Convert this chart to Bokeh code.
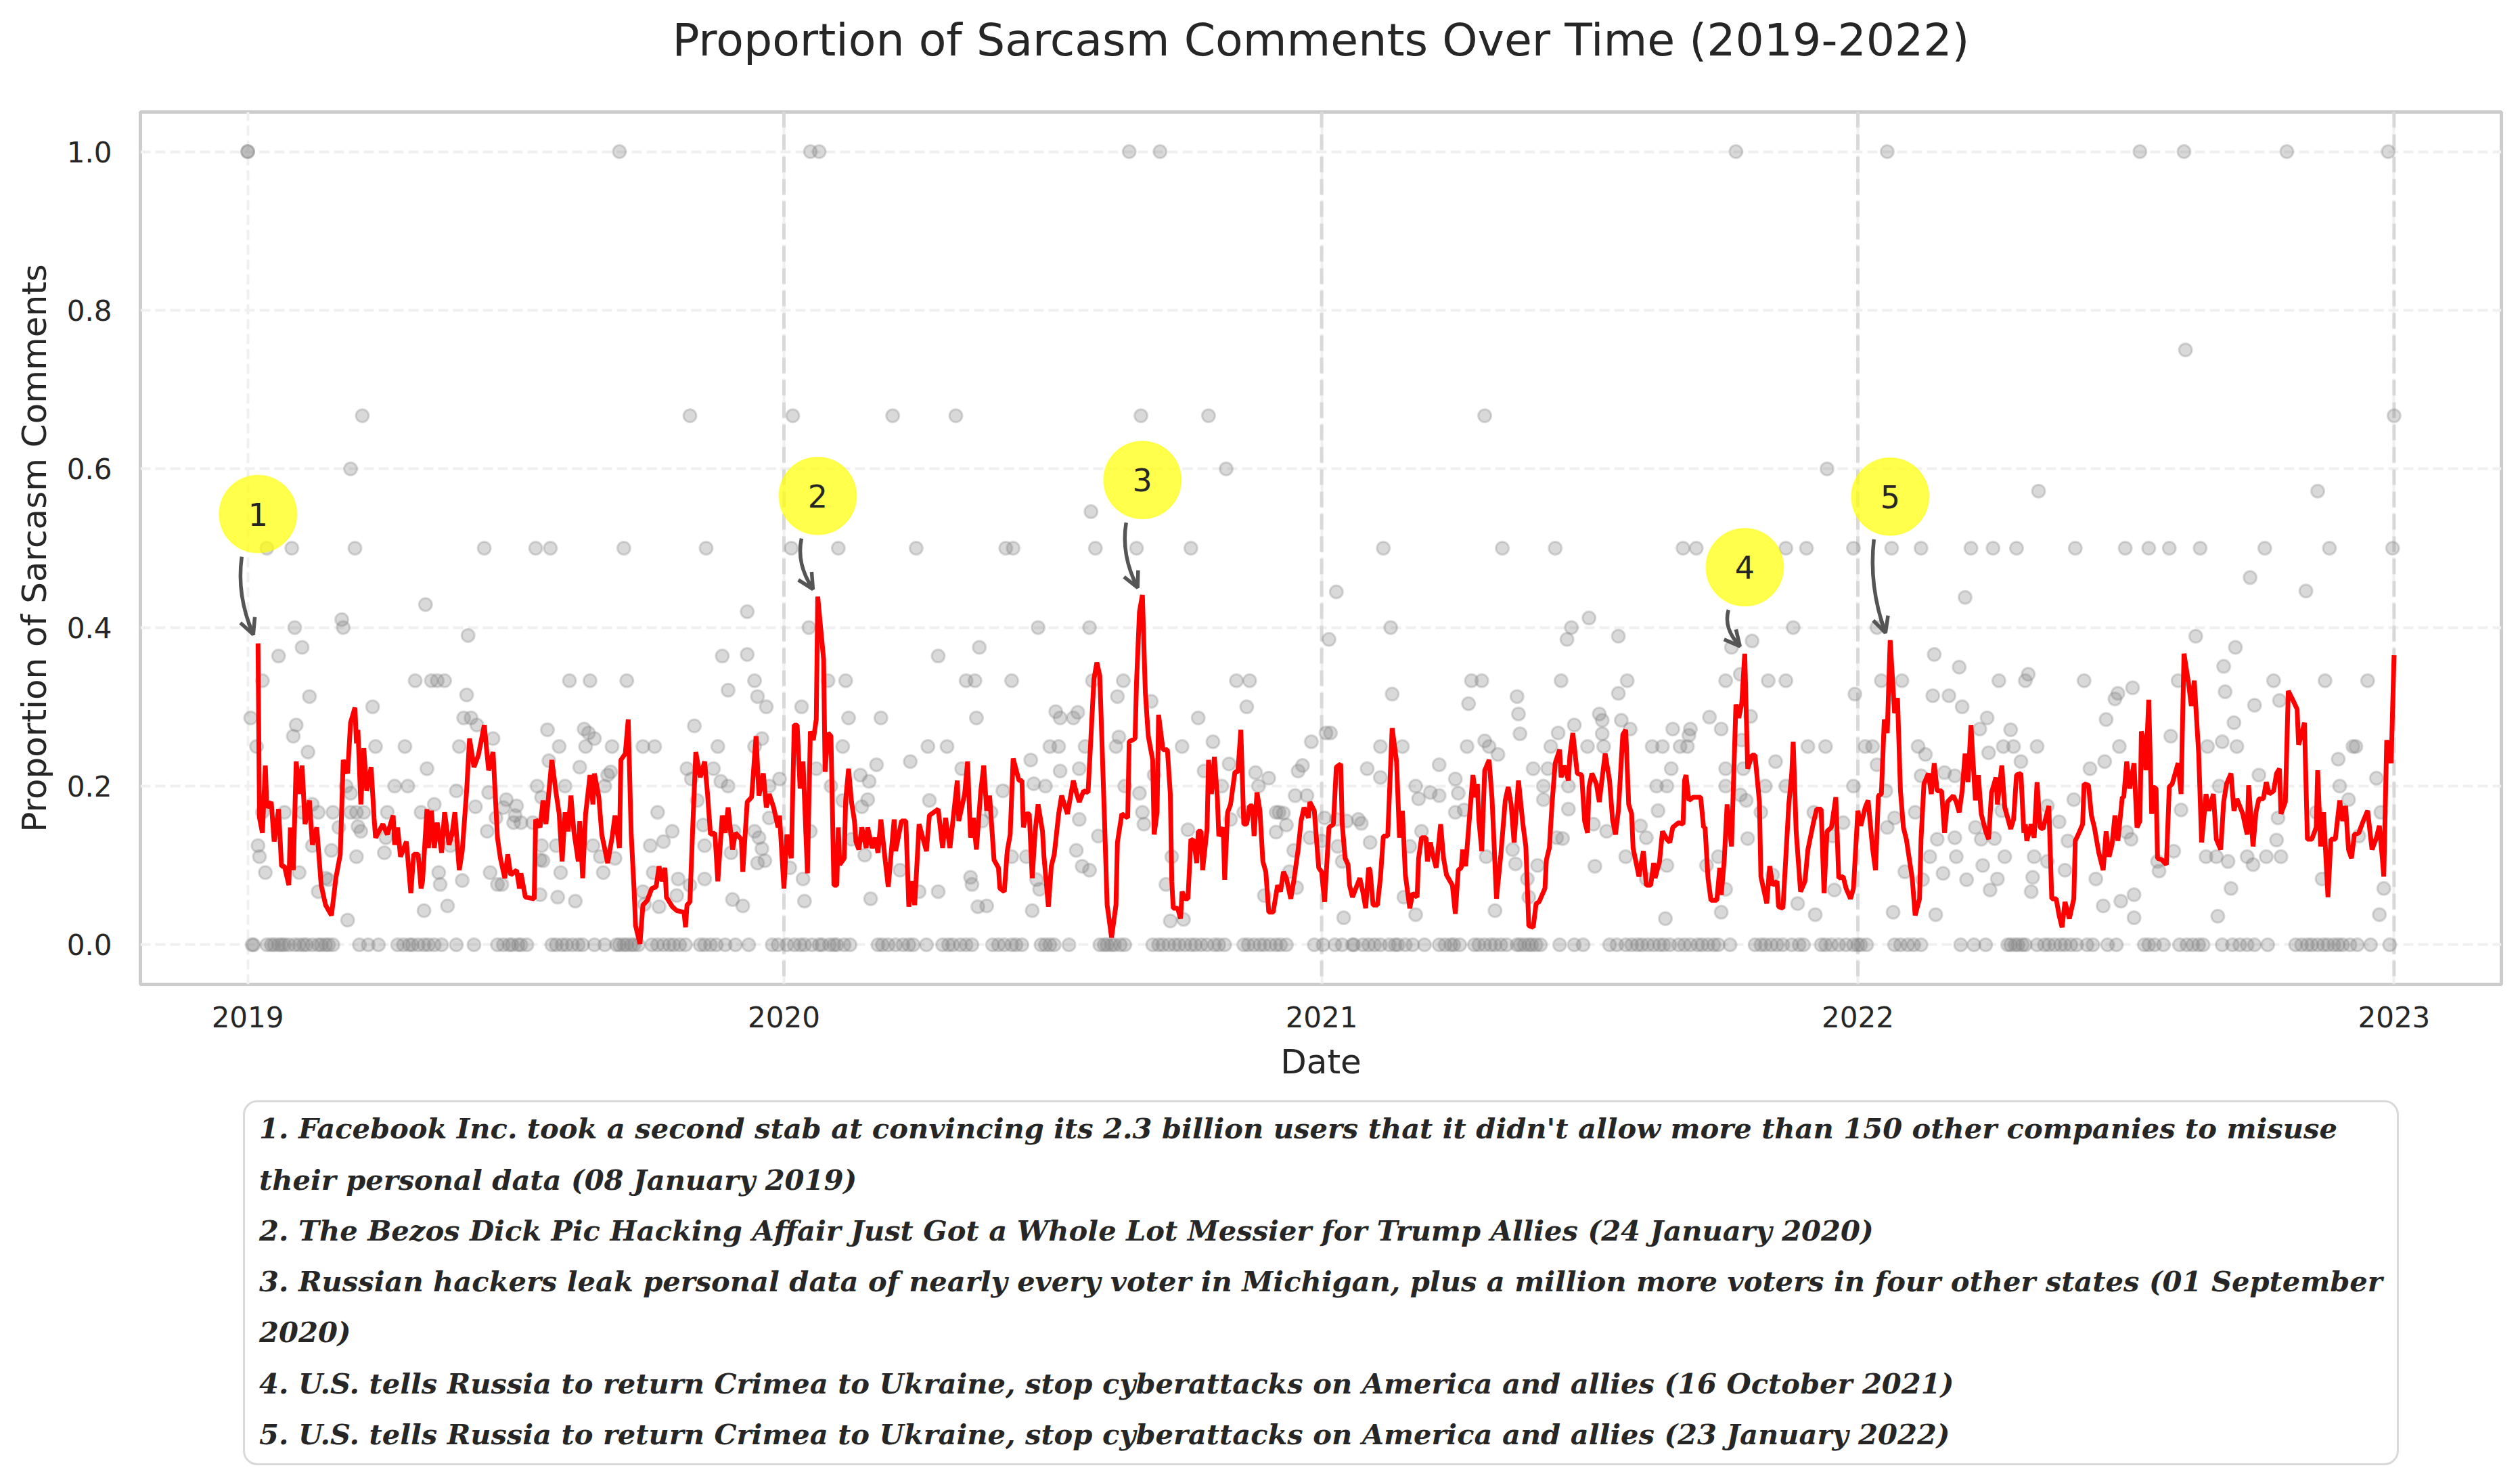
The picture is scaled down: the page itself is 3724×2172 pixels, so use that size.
import numpy as np
import pandas as pd

from bokeh.core.properties import value
from bokeh.embed import file_html
from bokeh.layouts import column
from bokeh.models import (Arrow, BoxAnnotation, DatetimeTickFormatter, FixedTicker,
                          OpenHead, PrintfTickFormatter, Range1d, Span)
from bokeh.plotting import figure
from bokeh.resources import INLINE


# rolling proportion (red line): (day since 2019-01-01, value)
ROLLING_2019 = [
    (7, 0.38), (8, 0.16), (10, 0.141), (12, 0.226), (13, 0.173), (16, 0.18), (18, 0.13), (21, 0.171),
    (23, 0.099), (25, 0.099), (28, 0.075), (29, 0.148), (31, 0.094), (33, 0.231), (35, 0.19), (37, 0.226),
    (39, 0.152), (42, 0.182), (44, 0.126), (47, 0.148), (50, 0.075), (53, 0.05), (57, 0.037), (60, 0.084),
    (63, 0.114), (65, 0.233), (68, 0.216), (70, 0.28), (73, 0.299), (74, 0.254), (75, 0.271), (77, 0.177),
    (79, 0.248), (81, 0.194), (84, 0.224), (86, 0.16), (87, 0.135), (92, 0.152), (95, 0.139), (99, 0.163),
    (100, 0.126), (102, 0.148), (104, 0.111), (108, 0.13), (111, 0.065), (113, 0.114), (116, 0.114),
    (118, 0.071), (119, 0.08), (122, 0.171), (123, 0.122), (125, 0.169), (127, 0.122), (129, 0.154),
    (132, 0.116), (134, 0.167), (137, 0.126), (139, 0.139), (141, 0.167), (144, 0.094), (146, 0.118),
    (149, 0.194), (151, 0.26), (154, 0.224), (157, 0.239), (161, 0.277), (164, 0.22), (167, 0.243),
    (170, 0.135), (172, 0.109), (175, 0.084), (177, 0.114), (179, 0.088), (183, 0.094), (185, 0.071),
    (186, 0.09), (189, 0.06), (195, 0.058), (196, 0.158), (199, 0.148), (201, 0.182), (203, 0.152),
    (207, 0.233), (210, 0.19), (212, 0.165), (214, 0.105), (216, 0.167), (218, 0.143), (220, 0.188),
    (222, 0.143), (225, 0.105), (226, 0.156), (228, 0.084), (230, 0.165), (233, 0.214), (235, 0.177),
    (236, 0.216), (239, 0.186), (241, 0.139), (245, 0.103), (248, 0.135), (250, 0.163), (253, 0.122),
    (254, 0.233), (257, 0.241), (259, 0.284), (261, 0.141), (263, 0.069), (264, 0.024), (267, 0.001),
    (269, 0.05), (272, 0.056), (275, 0.071), (278, 0.073), (280, 0.099), (282, 0.08), (284, 0.097),
    (285, 0.06), (289, 0.048), (292, 0.043), (297, 0.041), (298, 0.022), (299, 0.05), (301, 0.054),
    (303, 0.152), (305, 0.243), (308, 0.211), (311, 0.231), (313, 0.19), (315, 0.139), (318, 0.141),
    (320, 0.08), (323, 0.163), (325, 0.141), (327, 0.173), (330, 0.12), (332, 0.141), (336, 0.133),
    (337, 0.092), (340, 0.18), (343, 0.186), (346, 0.263), (348, 0.188), (351, 0.216), (353, 0.173),
    (355, 0.19), (358, 0.173), (361, 0.148), (362, 0.163),
]
ROLLING_2020 = [
    (365, 0.071), (367, 0.139), (370, 0.109), (372, 0.277), (374, 0.277), (376, 0.197), (378, 0.231),
    (381, 0.09), (383, 0.269), (385, 0.258), (387, 0.284), (388, 0.439), (392, 0.36), (393, 0.218),
    (395, 0.267), (397, 0.263), (399, 0.075), (401, 0.075), (402, 0.148), (403, 0.101), (406, 0.109),
    (407, 0.182), (409, 0.222), (411, 0.18), (413, 0.156), (414, 0.13), (416, 0.12), (418, 0.148),
    (421, 0.122), (422, 0.148), (425, 0.122), (427, 0.135), (429, 0.116), (431, 0.158), (434, 0.105),
    (436, 0.073), (440, 0.158), (441, 0.118), (445, 0.156), (448, 0.156), (450, 0.048), (452, 0.08),
    (454, 0.05), (457, 0.152), (462, 0.118), (464, 0.163), (470, 0.171), (473, 0.122), (475, 0.16),
    (478, 0.122), (483, 0.207), (484, 0.156), (488, 0.19), (490, 0.231), (492, 0.135), (494, 0.16),
    (496, 0.12), (499, 0.194), (501, 0.226), (503, 0.169), (505, 0.188), (508, 0.107), (511, 0.097),
    (512, 0.071), (515, 0.067), (517, 0.118), (519, 0.139), (521, 0.235), (525, 0.207), (527, 0.207),
    (528, 0.148), (530, 0.165), (532, 0.165), (534, 0.084), (536, 0.143), (538, 0.177), (541, 0.143),
    (542, 0.111), (545, 0.048), (547, 0.099), (549, 0.114), (552, 0.165), (554, 0.188), (558, 0.165),
    (562, 0.207), (564, 0.192), (566, 0.18), (569, 0.194), (572, 0.192), (574, 0.263), (576, 0.335),
    (578, 0.356), (580, 0.339), (583, 0.169), (585, 0.05), (586, 0.037), (588, 0.009), (591, 0.05),
    (592, 0.129), (595, 0.165), (599, 0.16), (600, 0.256), (604, 0.26), (605, 0.331), (607, 0.42),
    (609, 0.441), (611, 0.318), (613, 0.263), (616, 0.233), (617, 0.139), (619, 0.167), (620, 0.29),
    (623, 0.246), (626, 0.246), (628, 0.19), (629, 0.08), (630, 0.046), (633, 0.046), (635, 0.033),
    (636, 0.067), (638, 0.058), (640, 0.058), (642, 0.133), (644, 0.131), (646, 0.103), (647, 0.143),
    (649, 0.143), (650, 0.094), (653, 0.146), (654, 0.233), (656, 0.19), (658, 0.237), (660, 0.186),
    (661, 0.137), (664, 0.148), (665, 0.082), (667, 0.167), (669, 0.177), (672, 0.218), (674, 0.218),
    (676, 0.271), (678, 0.152), (680, 0.152), (682, 0.175), (684, 0.175), (685, 0.137), (687, 0.192),
    (689, 0.169), (691, 0.105), (693, 0.092), (695, 0.041), (698, 0.041), (701, 0.075), (703, 0.067),
    (705, 0.092), (707, 0.084), (710, 0.058), (712, 0.08), (715, 0.12), (717, 0.156), (719, 0.173),
    (722, 0.16), (723, 0.18), (726, 0.169), (729, 0.097),
]
ROLLING_2021 = [
    (731, 0.092), (733, 0.054), (736, 0.148), (739, 0.152), (741, 0.224), (744, 0.228), (745, 0.152),
    (747, 0.109), (749, 0.101), (750, 0.075), (752, 0.06), (757, 0.084), (759, 0.067), (761, 0.046),
    (763, 0.097), (764, 0.094), (766, 0.05), (769, 0.05), (771, 0.084), (773, 0.137), (776, 0.137),
    (779, 0.273), (782, 0.231), (784, 0.135), (786, 0.169), (788, 0.088), (791, 0.046), (793, 0.065),
    (796, 0.06), (797, 0.109), (799, 0.135), (802, 0.135), (803, 0.105), (805, 0.129), (807, 0.111),
    (809, 0.097), (812, 0.152), (814, 0.109), (816, 0.088), (820, 0.075), (822, 0.039), (824, 0.094),
    (826, 0.097), (827, 0.12), (829, 0.099), (832, 0.169), (834, 0.214), (836, 0.186), (837, 0.203),
    (838, 0.158), (840, 0.118), (842, 0.22), (843, 0.224), (845, 0.233), (847, 0.184), (848, 0.143),
    (850, 0.058), (853, 0.114), (856, 0.182), (858, 0.199), (860, 0.177), (862, 0.129), (865, 0.207),
    (868, 0.152), (870, 0.124), (872, 0.024), (875, 0.022), (877, 0.052), (879, 0.054), (883, 0.071),
    (884, 0.107), (886, 0.122), (888, 0.182), (890, 0.229), (893, 0.246), (894, 0.211), (896, 0.226),
    (899, 0.207), (900, 0.239), (902, 0.267), (905, 0.216), (908, 0.214), (910, 0.156), (912, 0.141),
    (913, 0.199), (915, 0.216), (918, 0.203), (920, 0.18), (922, 0.211), (924, 0.241), (927, 0.207),
    (929, 0.158), (931, 0.139), (933, 0.169), (936, 0.265), (938, 0.271), (940, 0.177), (942, 0.165),
    (943, 0.122), (947, 0.086), (950, 0.118), (952, 0.075), (955, 0.075), (957, 0.103), (958, 0.084),
    (961, 0.105), (963, 0.143), (966, 0.133), (968, 0.129), (970, 0.148), (974, 0.154), (977, 0.152),
    (978, 0.207), (979, 0.214), (981, 0.182), (984, 0.186), (989, 0.186), (991, 0.148), (992, 0.148),
    (994, 0.084), (996, 0.056), (1000, 0.056), (1002, 0.097), (1003, 0.063), (1005, 0.105),
    (1007, 0.177), (1010, 0.124), (1013, 0.303), (1015, 0.286), (1017, 0.305), (1019, 0.367),
    (1021, 0.222), (1024, 0.239), (1026, 0.239), (1029, 0.18), (1030, 0.086), (1034, 0.052),
    (1036, 0.099), (1038, 0.075), (1041, 0.08), (1042, 0.048), (1045, 0.046), (1049, 0.177),
    (1051, 0.216), (1052, 0.256), (1054, 0.143), (1057, 0.067), (1060, 0.08), (1062, 0.12),
    (1066, 0.156), (1068, 0.171), (1071, 0.171), (1073, 0.065), (1075, 0.143), (1078, 0.148),
    (1081, 0.186), (1083, 0.084), (1086, 0.086), (1088, 0.071), (1091, 0.058), (1093, 0.071),
]
ROLLING_2022 = [
    (1096, 0.169), (1098, 0.15), (1101, 0.173), (1103, 0.182), (1106, 0.122), (1108, 0.094),
    (1110, 0.188), (1112, 0.19), (1114, 0.284), (1116, 0.267), (1118, 0.384), (1121, 0.292),
    (1123, 0.311), (1125, 0.194), (1127, 0.148), (1129, 0.133), (1133, 0.084), (1135, 0.037),
    (1138, 0.058), (1139, 0.133), (1141, 0.203), (1144, 0.216), (1146, 0.19), (1148, 0.229),
    (1150, 0.194), (1153, 0.194), (1155, 0.141), (1157, 0.18), (1161, 0.188), (1163, 0.18),
    (1165, 0.167), (1167, 0.194), (1169, 0.241), (1171, 0.205), (1173, 0.277), (1176, 0.182),
    (1178, 0.214), (1180, 0.165), (1183, 0.143), (1185, 0.133), (1187, 0.192), (1190, 0.211),
    (1191, 0.177), (1194, 0.226), (1196, 0.173), (1198, 0.16), (1200, 0.146), (1202, 0.158),
    (1204, 0.214), (1207, 0.216), (1209, 0.141), (1210, 0.152), (1211, 0.131), (1214, 0.152),
    (1216, 0.135), (1218, 0.205), (1220, 0.148), (1222, 0.146), (1226, 0.175), (1228, 0.058),
    (1231, 0.058), (1233, 0.037), (1235, 0.022), (1237, 0.054), (1240, 0.033), (1243, 0.058),
    (1244, 0.131), (1246, 0.139), (1249, 0.152), (1250, 0.203), (1253, 0.201), (1255, 0.163),
    (1257, 0.148), (1260, 0.116), (1263, 0.094), (1265, 0.143), (1267, 0.111), (1269, 0.126),
    (1271, 0.163), (1273, 0.131), (1276, 0.186), (1277, 0.186), (1279, 0.231), (1281, 0.197),
    (1284, 0.229), (1286, 0.148), (1288, 0.156), (1289, 0.269), (1291, 0.254), (1292, 0.22),
    (1294, 0.309), (1296, 0.165), (1297, 0.199), (1299, 0.197), (1300, 0.109), (1303, 0.107),
    (1306, 0.101), (1308, 0.199), (1310, 0.203), (1314, 0.229), (1316, 0.19), (1318, 0.367),
    (1321, 0.331), (1323, 0.301), (1325, 0.333), (1328, 0.241), (1330, 0.129), (1333, 0.19),
    (1335, 0.169), (1338, 0.19), (1340, 0.133), (1343, 0.12), (1345, 0.18), (1347, 0.203),
    (1350, 0.216), (1352, 0.169), (1354, 0.184), (1358, 0.165), (1361, 0.139), (1362, 0.201),
    (1365, 0.124), (1367, 0.167), (1369, 0.184), (1372, 0.184), (1374, 0.205), (1376, 0.19),
    (1379, 0.194), (1381, 0.216), (1383, 0.222), (1384, 0.165), (1387, 0.18), (1389, 0.32),
    (1392, 0.309), (1395, 0.297), (1396, 0.252), (1398, 0.265), (1400, 0.28), (1402, 0.133),
    (1405, 0.133), (1408, 0.148), (1409, 0.22), (1411, 0.124), (1413, 0.167), (1416, 0.06),
    (1418, 0.133), (1421, 0.133), (1424, 0.182), (1426, 0.156), (1428, 0.175), (1430, 0.12),
    (1432, 0.109), (1434, 0.139), (1437, 0.141), (1440, 0.156), (1443, 0.169), (1446, 0.12),
    (1449, 0.135), (1451, 0.15), (1453, 0.109), (1454, 0.086), (1456, 0.258), (1459, 0.229),
    (1460, 0.297), (1461, 0.365),
]

# daily proportions (grey points): (day since 2019-01-01, value)
SCATTER_2019 = [
    (0, 1.0), (0, 1.0), (253, 1.0), (78, 0.667), (301, 0.667), (70, 0.6), (13, 0.5), (30, 0.5),
    (73, 0.5), (161, 0.5), (196, 0.5), (206, 0.5), (256, 0.5), (312, 0.5), (121, 0.429), (340, 0.42),
    (32, 0.4), (64, 0.41), (65, 0.4), (150, 0.39), (37, 0.375), (21, 0.364), (323, 0.364), (340, 0.366),
    (10, 0.333), (114, 0.333), (125, 0.333), (129, 0.333), (134, 0.333), (219, 0.333), (233, 0.333),
    (258, 0.333), (345, 0.333), (42, 0.313), (149, 0.315), (327, 0.321), (347, 0.313), (353, 0.3),
    (85, 0.3), (2, 0.286), (147, 0.286), (152, 0.286), (33, 0.277), (156, 0.277), (304, 0.276),
    (31, 0.263), (204, 0.271), (229, 0.272), (232, 0.267), (236, 0.26), (167, 0.26), (350, 0.26),
    (6, 0.25), (87, 0.25), (107, 0.25), (144, 0.25), (212, 0.25), (230, 0.25), (248, 0.25), (269, 0.25),
    (277, 0.25), (320, 0.25), (345, 0.25), (41, 0.243), (205, 0.232), (122, 0.222), (226, 0.224),
    (299, 0.222), (317, 0.222), (362, 0.209), (247, 0.218), (245, 0.214), (302, 0.209), (322, 0.206),
    (327, 0.2), (100, 0.2), (109, 0.2), (67, 0.2), (197, 0.2), (216, 0.2), (243, 0.2), (355, 0.2),
    (70, 0.191), (142, 0.194), (164, 0.192), (200, 0.186), (44, 0.177), (127, 0.177), (176, 0.183),
    (183, 0.175), (155, 0.174), (174, 0.173), (306, 0.182), (10, 0.167), (25, 0.167), (37, 0.167),
    (48, 0.167), (58, 0.167), (70, 0.167), (74, 0.167), (79, 0.167), (95, 0.167), (118, 0.167),
    (279, 0.167), (169, 0.16), (182, 0.163), (355, 0.16), (75, 0.149), (62, 0.148), (77, 0.143),
    (181, 0.154), (186, 0.154), (194, 0.154), (310, 0.151), (94, 0.135), (163, 0.143), (289, 0.143),
    (345, 0.143), (331, 0.143), (7, 0.125), (44, 0.125), (138, 0.125), (200, 0.125), (210, 0.125),
    (235, 0.125), (274, 0.125), (283, 0.13), (311, 0.125), (348, 0.135), (350, 0.121), (8, 0.111),
    (57, 0.119), (74, 0.111), (93, 0.116), (240, 0.111), (250, 0.109), (329, 0.116), (199, 0.107),
    (201, 0.106), (347, 0.103), (352, 0.106), (12, 0.091), (35, 0.091), (130, 0.091), (165, 0.091),
    (213, 0.091), (242, 0.091), (276, 0.091), (53, 0.084), (55, 0.082), (131, 0.076), (146, 0.081),
    (170, 0.076), (173, 0.076), (293, 0.083), (301, 0.075), (311, 0.083), (48, 0.067), (199, 0.063),
    (211, 0.06), (223, 0.055), (269, 0.067), (270, 0.051), (292, 0.062), (330, 0.057), (337, 0.049),
    (120, 0.043), (136, 0.049), (280, 0.048), (68, 0.031),
]
SCATTER_2020 = [
    (383, 1.0), (389, 1.0), (600, 1.0), (621, 1.0), (371, 0.667), (439, 0.667), (482, 0.667),
    (608, 0.667), (654, 0.667), (666, 0.6), (574, 0.546), (370, 0.5), (402, 0.5), (455, 0.5),
    (516, 0.5), (521, 0.5), (577, 0.5), (605, 0.5), (642, 0.5), (382, 0.4), (538, 0.4), (573, 0.4),
    (498, 0.375), (470, 0.364), (395, 0.333), (407, 0.333), (489, 0.333), (495, 0.333), (520, 0.333),
    (575, 0.333), (596, 0.333), (673, 0.333), (682, 0.333), (592, 0.313), (680, 0.3), (377, 0.3),
    (615, 0.307), (409, 0.286), (431, 0.286), (496, 0.286), (550, 0.294), (553, 0.286), (562, 0.286),
    (565, 0.293), (647, 0.286), (405, 0.25), (463, 0.25), (476, 0.25), (546, 0.25), (552, 0.25),
    (570, 0.25), (591, 0.25), (636, 0.25), (593, 0.262), (657, 0.256), (724, 0.256), (428, 0.227),
    (451, 0.231), (533, 0.233), (668, 0.228), (718, 0.226), (387, 0.222), (486, 0.222), (553, 0.219),
    (566, 0.222), (651, 0.219), (715, 0.219), (417, 0.214), (423, 0.206), (397, 0.2), (535, 0.203),
    (543, 0.2), (597, 0.2), (686, 0.217), (695, 0.21), (688, 0.2), (663, 0.2), (617, 0.214),
    (514, 0.194), (607, 0.191), (713, 0.188), (721, 0.188), (405, 0.182), (422, 0.183), (464, 0.182),
    (418, 0.174), (506, 0.167), (609, 0.167), (702, 0.167), (700, 0.167), (705, 0.166), (678, 0.167),
    (383, 0.143), (500, 0.156), (566, 0.158), (610, 0.152), (640, 0.145), (707, 0.151), (700, 0.142),
    (669, 0.158), (723, 0.135), (411, 0.133), (420, 0.113), (520, 0.111), (530, 0.111), (564, 0.119),
    (579, 0.137), (629, 0.111), (712, 0.119), (369, 0.097), (378, 0.083), (444, 0.094), (492, 0.085),
    (493, 0.076), (537, 0.082), (539, 0.07), (568, 0.099), (573, 0.094), (625, 0.076), (692, 0.062),
    (714, 0.072), (709, 0.092), (379, 0.055), (424, 0.058), (457, 0.067), (470, 0.067), (497, 0.048),
    (503, 0.049), (534, 0.043), (628, 0.03), (637, 0.032),
]
SCATTER_2021 = [
    (731, 0.131), (737, 0.267), (741, 0.158), (745, 0.105), (746, 0.034), (1013, 1.0), (842, 0.667),
    (1075, 0.6), (773, 0.5), (854, 0.5), (890, 0.5), (977, 0.5), (986, 0.5), (1047, 0.5), (1061, 0.5),
    (1093, 0.5), (741, 0.445), (913, 0.412), (778, 0.4), (901, 0.4), (1052, 0.4), (1109, 0.4),
    (736, 0.385), (898, 0.385), (933, 0.389), (1010, 0.375), (1024, 0.383), (833, 0.333), (840, 0.333),
    (894, 0.333), (939, 0.333), (1006, 0.333), (1035, 0.333), (1047, 0.333), (1112, 0.333),
    (779, 0.316), (831, 0.304), (864, 0.313), (933, 0.317), (1094, 0.316), (1016, 0.341), (865, 0.291),
    (920, 0.291), (922, 0.283), (935, 0.283), (995, 0.287), (1023, 0.288), (734, 0.267), (866, 0.266),
    (892, 0.267), (903, 0.277), (922, 0.266), (941, 0.272), (970, 0.272), (982, 0.272), (981, 0.264),
    (1003, 0.272), (1017, 0.258), (771, 0.25), (786, 0.25), (830, 0.25), (842, 0.257), (845, 0.25),
    (887, 0.25), (912, 0.25), (923, 0.25), (956, 0.25), (963, 0.25), (975, 0.25), (980, 0.25),
    (1062, 0.25), (1074, 0.25), (1101, 0.25), (1106, 0.25), (851, 0.24), (762, 0.222), (811, 0.227),
    (875, 0.222), (885, 0.222), (969, 0.222), (1006, 0.222), (1018, 0.222), (1040, 0.231),
    (1109, 0.227), (771, 0.211), (822, 0.209), (795, 0.2), (882, 0.2), (959, 0.2), (966, 0.2),
    (1006, 0.2), (1033, 0.2), (1093, 0.2), (1047, 0.2), (899, 0.2), (805, 0.192), (811, 0.188),
    (824, 0.191), (797, 0.184), (1016, 0.189), (1020, 0.182), (882, 0.183), (733, 0.16), (756, 0.158),
    (748, 0.156), (758, 0.153), (822, 0.167), (828, 0.17), (899, 0.171), (960, 0.169), (1030, 0.167),
    (1066, 0.167), (799, 0.143), (764, 0.129), (891, 0.135), (895, 0.134), (916, 0.152), (925, 0.143),
    (948, 0.15), (952, 0.135), (1021, 0.134), (1086, 0.154), (1079, 0.137), (742, 0.124), (791, 0.124),
    (861, 0.12), (843, 0.111), (938, 0.111), (878, 0.1), (863, 0.102), (917, 0.099), (966, 0.1),
    (1001, 0.111), (993, 0.1), (871, 0.083), (952, 0.083), (1038, 0.088), (1006, 0.07), (787, 0.06),
    (795, 0.038), (849, 0.043), (965, 0.033), (1003, 0.041), (1055, 0.052), (1067, 0.038),
    (1080, 0.069), (872, 0.06),
]
SCATTER_2022 = [
    (1116, 1.0), (1288, 1.0), (1318, 1.0), (1388, 1.0), (1457, 1.0), (1319, 0.75), (1461, 0.667),
    (1219, 0.572), (1409, 0.572), (1119, 0.5), (1139, 0.5), (1173, 0.5), (1188, 0.5), (1204, 0.5),
    (1244, 0.5), (1278, 0.5), (1294, 0.5), (1308, 0.5), (1329, 0.5), (1373, 0.5), (1417, 0.5),
    (1460, 0.5), (1363, 0.463), (1401, 0.446), (1169, 0.438), (1326, 0.389), (1353, 0.375),
    (1148, 0.366), (1165, 0.35), (1345, 0.351), (1212, 0.341), (1126, 0.333), (1192, 0.333),
    (1210, 0.333), (1250, 0.333), (1314, 0.333), (1379, 0.333), (1414, 0.333), (1443, 0.333),
    (1147, 0.314), (1158, 0.314), (1273, 0.317), (1271, 0.31), (1283, 0.324), (1346, 0.319),
    (1383, 0.308), (1167, 0.3), (1366, 0.302), (1184, 0.286), (1265, 0.284), (1352, 0.28),
    (1179, 0.272), (1200, 0.271), (1137, 0.25), (1195, 0.25), (1202, 0.25), (1218, 0.25), (1274, 0.25),
    (1309, 0.263), (1334, 0.25), (1344, 0.256), (1354, 0.25), (1433, 0.25), (1435, 0.25), (1142, 0.24),
    (1185, 0.242), (1207, 0.231), (1264, 0.231), (1254, 0.222), (1423, 0.234), (1155, 0.217),
    (1162, 0.213), (1139, 0.213), (1369, 0.214), (1449, 0.21), (1342, 0.2), (1424, 0.2), (1115, 0.194),
    (1243, 0.183), (1430, 0.183), (1135, 0.167), (1194, 0.169), (1225, 0.175), (1316, 0.17),
    (1452, 0.167), (1382, 0.16), (1116, 0.148), (1121, 0.16), (1176, 0.148), (1233, 0.155),
    (1279, 0.142), (1408, 0.167), (1150, 0.133), (1162, 0.135), (1180, 0.133), (1189, 0.134),
    (1239, 0.131), (1282, 0.133), (1381, 0.132), (1437, 0.137), (1145, 0.111), (1163, 0.111),
    (1196, 0.111), (1216, 0.111), (1333, 0.111), (1340, 0.111), (1361, 0.111), (1374, 0.111),
    (1384, 0.111), (1311, 0.118), (1300, 0.105), (1348, 0.105), (1365, 0.101), (1128, 0.092),
    (1154, 0.09), (1181, 0.1), (1225, 0.105), (1237, 0.094), (1301, 0.093), (1412, 0.083),
    (1140, 0.082), (1170, 0.082), (1191, 0.083), (1215, 0.085), (1258, 0.083), (1186, 0.069),
    (1214, 0.067), (1284, 0.063), (1275, 0.055), (1350, 0.071), (1454, 0.071), (1263, 0.049),
    (1120, 0.041), (1149, 0.038), (1284, 0.034), (1341, 0.036), (1451, 0.038),
]
# days with no sarcasm comment at all (value 0)
ZERO_DAYS = [
    3, 4, 13, 16, 18, 21, 23, 25, 28, 32, 35, 38, 40, 44, 48, 50, 53, 55, 58, 76, 82, 89, 102, 106, 110,
    112, 116, 120, 123, 127, 132, 142, 154, 170, 174, 178, 180, 184, 186, 190, 207, 210, 214, 217, 221,
    225, 228, 236, 243, 251, 253, 256, 258, 261, 263, 266, 275, 279, 283, 287, 290, 294, 298, 308, 311,
    315, 319, 325, 332, 341, 357, 361, 367, 372, 376, 379, 384, 389, 391, 396, 399, 401, 406, 410, 429,
    432, 436, 441, 446, 450, 453, 462, 473, 477, 480, 485, 489, 493, 507, 511, 515, 520, 523, 527, 540,
    543, 546, 549, 559, 580, 583, 585, 588, 590, 594, 597, 616, 620, 623, 627, 631, 634, 638, 642, 645,
    649, 653, 658, 661, 665, 678, 681, 685, 689, 692, 696, 700, 703, 707, 726, 732, 740, 745, 752, 753,
    759, 763, 767, 771, 777, 781, 783, 788, 793, 801, 811, 815, 819, 821, 825, 835, 838, 842, 846, 849,
    853, 857, 864, 866, 869, 872, 874, 877, 880, 893, 903, 909, 927, 932, 938, 942, 946, 949, 953, 957,
    961, 964, 968, 974, 978, 982, 987, 990, 994, 998, 1001, 1009, 1026, 1030, 1033, 1037, 1041, 1045,
    1051, 1056, 1059, 1071, 1074, 1078, 1083, 1088, 1093, 1096, 1098, 1102, 1121, 1125, 1130, 1134,
    1139, 1166, 1175, 1183, 1198, 1200, 1203, 1205, 1208, 1210, 1218, 1223, 1226, 1230, 1234, 1237,
    1241, 1245, 1252, 1256, 1266, 1272, 1291, 1294, 1298, 1304, 1315, 1320, 1324, 1328, 1331, 1344,
    1351, 1356, 1361, 1366, 1375, 1394, 1398, 1402, 1405, 1409, 1413, 1416, 1420, 1423, 1426, 1431,
    1436, 1445, 1458,
]

# annotated news events
EVENT_DATES = ["2019-01-08", "2020-01-24", "2020-09-01", "2021-10-16", "2022-01-23"]
EVENT_PEAKS = [0.381, 0.438, 0.44, 0.366, 0.383]
EVENT_BUBBLE_Y = [0.543, 0.566, 0.586, 0.476, 0.565]
EVENT_LABELS = ["1", "2", "3", "4", "5"]

NOTE_LINES = [
    "1. Facebook Inc. took a second stab at convincing its 2.3 billion users that it didn't allow more than 150 other companies to misuse",
    "their personal data (08 January 2019)",
    "2. The Bezos Dick Pic Hacking Affair Just Got a Whole Lot Messier for Trump Allies (24 January 2020)",
    "3. Russian hackers leak personal data of nearly every voter in Michigan, plus a million more voters in four other states (01 September",
    "2020)",
    "4. U.S. tells Russia to return Crimea to Ukraine, stop cyberattacks on America and allies (16 October 2021)",
    "5. U.S. tells Russia to return Crimea to Ukraine, stop cyberattacks on America and allies (23 January 2022)",
]

TITLE = "Proportion of Sarcasm Comments Over Time (2019-2022)"
YEAR_TICKS = [2019, 2020, 2021, 2022, 2023]
YEAR_LINES = [2020, 2021, 2022, 2023]

TEXT = "#262626"
FONT = "DejaVu Sans"
DAY_MS = 86_400_000
START_MS = pd.Timestamp("2019-01-01").value / 1e6

# page layout (pixels)
LEFT, RIGHT = 207, 24
FRAME_W, FRAME_H = 3489, 1289
HEAD_H, NOTE_H = 120, 550
MID = 0.346  # distance baseline -> middle of the text, in em


def to_ms(days):
    return START_MS + np.asarray(days, dtype=float) * DAY_MS


def split(*groups):
    pairs = [pt for g in groups for pt in g]
    days, vals = zip(*pairs)
    return to_ms(days), np.array(vals)


def year_ms(year):
    return pd.Timestamp(f"{year}-01-01").value / 1e6


def blank(height):
    # a plain drawing area whose data units are page pixels
    f = figure(frame_width=FRAME_W, frame_height=height,
               x_range=Range1d(LEFT, LEFT + FRAME_W), y_range=Range1d(0, height),
               x_axis_location=None, y_axis_location=None,
               min_border_left=LEFT, min_border_right=RIGHT, min_border_top=0, min_border_bottom=0,
               output_backend="svg", toolbar_location=None)
    f.grid.visible = False
    f.outline_line_color = None
    return f


# title strip
TITLE_PX = 66.5
h = blank(HEAD_H)
h.text(x=[LEFT + FRAME_W / 2], y=[HEAD_H - 81.6 + MID * TITLE_PX], text=[TITLE],
       text_align="center", text_baseline="middle", text_font=value(FONT),
       text_font_size=value(f"{TITLE_PX}px"), text_color=TEXT)

# x range with 5 % padding on both sides, like the source chart
pad = 0.05 * (year_ms(2023) - year_ms(2019))
x0, x1 = year_ms(2019) - pad, year_ms(2023) + pad

p = figure(
    x_axis_type="datetime",
    x_range=Range1d(x0, x1), y_range=Range1d(-0.05, 1.05),
    frame_width=FRAME_W, frame_height=FRAME_H,
    min_border_left=LEFT, min_border_right=RIGHT, min_border_top=165 - HEAD_H, min_border_bottom=164,
    output_backend="svg", toolbar_location=None,
    background_fill_color="white", border_fill_color="white",
)

p.xaxis.axis_label = "Date"
p.yaxis.axis_label = "Proportion of Sarcasm Comments"
for ax in p.axis:
    ax.axis_label_text_font = FONT
    ax.axis_label_text_font_size = "50px"
    ax.axis_label_text_font_style = "normal"
    ax.axis_label_text_color = TEXT
    ax.major_label_text_font = FONT
    ax.major_label_text_font_size = "42px"
    ax.major_label_text_color = TEXT
    ax.axis_line_color = None
    ax.major_tick_line_color = None
    ax.minor_tick_line_color = None
    ax.major_tick_out = 0
    ax.major_tick_in = 0
p.xaxis.major_label_standoff = 32
p.xaxis.axis_label_standoff = 19
p.yaxis.major_label_standoff = 42
p.yaxis.axis_label_standoff = 16

p.xaxis.ticker = FixedTicker(ticks=[year_ms(y) for y in YEAR_TICKS])
p.xaxis.formatter = DatetimeTickFormatter(years="%Y", months="%Y", days="%Y", hours="%Y")
p.yaxis.ticker = FixedTicker(ticks=[0.0, 0.2, 0.4, 0.6, 0.8, 1.0])
p.yaxis.formatter = PrintfTickFormatter(format="%.1f")

p.grid.grid_line_color = "#f0f0f0"
p.grid.grid_line_width = 4
p.grid.grid_line_dash = "15 7"
p.outline_line_color = "#cccccc"
p.outline_line_width = 5

# dashed year separators
for y in YEAR_LINES:
    p.add_layout(Span(location=year_ms(y), dimension="height", line_color="#d9d9d9",
                      line_width=5, line_dash="23 10", level="underlay"))

# daily points
sx, sy = split(SCATTER_2019, SCATTER_2020, SCATTER_2021, SCATTER_2022)
zx = to_ms(ZERO_DAYS)
px_all = np.concatenate([sx, zx])
py_all = np.concatenate([sy, np.zeros(len(zx))])
p.scatter(px_all, py_all, size=19, fill_color="gray", fill_alpha=0.3,
          line_color="gray", line_alpha=0.3, line_width=3)

# rolling mean
rx, ry = split(ROLLING_2019, ROLLING_2020, ROLLING_2021, ROLLING_2022)
p.line(rx, ry, line_color="red", line_width=7)

# event bubbles with curved arrows
ms_per_px = (x1 - x0) / FRAME_W
val_per_px = 1.1 / FRAME_H
ev_x = np.array([pd.Timestamp(d).value / 1e6 for d in EVENT_DATES])
ARROW = "#555555"
for ex, peak, by in zip(ev_x, EVENT_PEAKS, EVENT_BUBBLE_Y):
    sx0, sy0 = ex - 24 * ms_per_px, by - 63 * val_per_px
    tx, ty = ex - 7 * ms_per_px, peak + 12 * val_per_px
    cx, cy = sx0 - 8 * ms_per_px, (sy0 + ty) / 2
    p.quadratic(x0=[sx0], y0=[sy0], x1=[tx], y1=[ty], cx=[cx], cy=[cy],
                line_color=ARROW, line_width=5.5)
    t = 0.85
    hx = (1 - t) ** 2 * sx0 + 2 * (1 - t) * t * cx + t ** 2 * tx
    hy = (1 - t) ** 2 * sy0 + 2 * (1 - t) * t * cy + t ** 2 * ty
    p.add_layout(Arrow(end=OpenHead(size=23, line_color=ARROW, line_width=5.5),
                       x_start=hx, y_start=hy, x_end=tx, y_end=ty,
                       line_color=ARROW, line_width=5.5))

p.scatter(ev_x, EVENT_BUBBLE_Y, size=114, fill_color="yellow", fill_alpha=0.7,
          line_color="yellow", line_alpha=0.5, line_width=2)
p.text(ev_x, EVENT_BUBBLE_Y, text=EVENT_LABELS, text_align="center", text_baseline="middle",
       text_font=value(FONT), text_font_size=value("46px"), text_color=TEXT)

# notes box below the chart
NOTE_PX = 41.6
n = blank(NOTE_H)
n.add_layout(BoxAnnotation(left=360, right=3543, top=NOTE_H - 8.5, bottom=5,
                           fill_alpha=0, line_color="#808080", line_width=3,
                           border_radius=20))
first_baseline = NOTE_H - 63.6
line_h = 75.3
n.text(x=[382.6] * len(NOTE_LINES),
       y=[first_baseline - i * line_h + MID * NOTE_PX for i in range(len(NOTE_LINES))],
       text=NOTE_LINES, text_align="left", text_baseline="middle",
       text_font=value("DejaVu Serif"), text_font_style="bold italic",
       text_font_size=value(f"{NOTE_PX}px"), text_color=TEXT)

layout = column(h, p, n, spacing=0)
open("out.html", "w").write(file_html(layout, INLINE))
